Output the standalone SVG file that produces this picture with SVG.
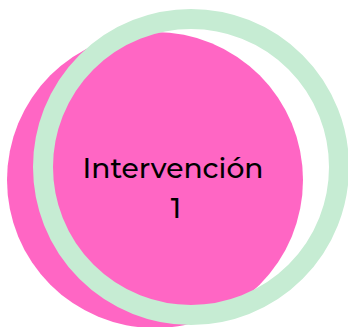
<svg xmlns="http://www.w3.org/2000/svg" width="348" height="327" viewBox="0 0 348 327">
<style>
.lbl{font-family:"Montserrat","Noto Sans","Liberation Sans",sans-serif;font-size:28px;font-weight:500;fill:#000;text-anchor:middle}
</style>
<rect width="348" height="327" fill="#fff"/>
<g id="node-pink">
<circle cx="155" cy="180" r="148" fill="#FF66C4"/>
</g>
<g id="node-ring">
<circle cx="191" cy="167" r="148" fill="none" stroke="#C6ECD3" stroke-width="20"/>
</g>
<g id="node-label">
<text class="lbl" x="173" y="178" textLength="181" lengthAdjust="spacingAndGlyphs">Intervención</text>
<text class="lbl" x="176" y="218">1</text>
</g>
<g id="connectors"/>
</svg>
